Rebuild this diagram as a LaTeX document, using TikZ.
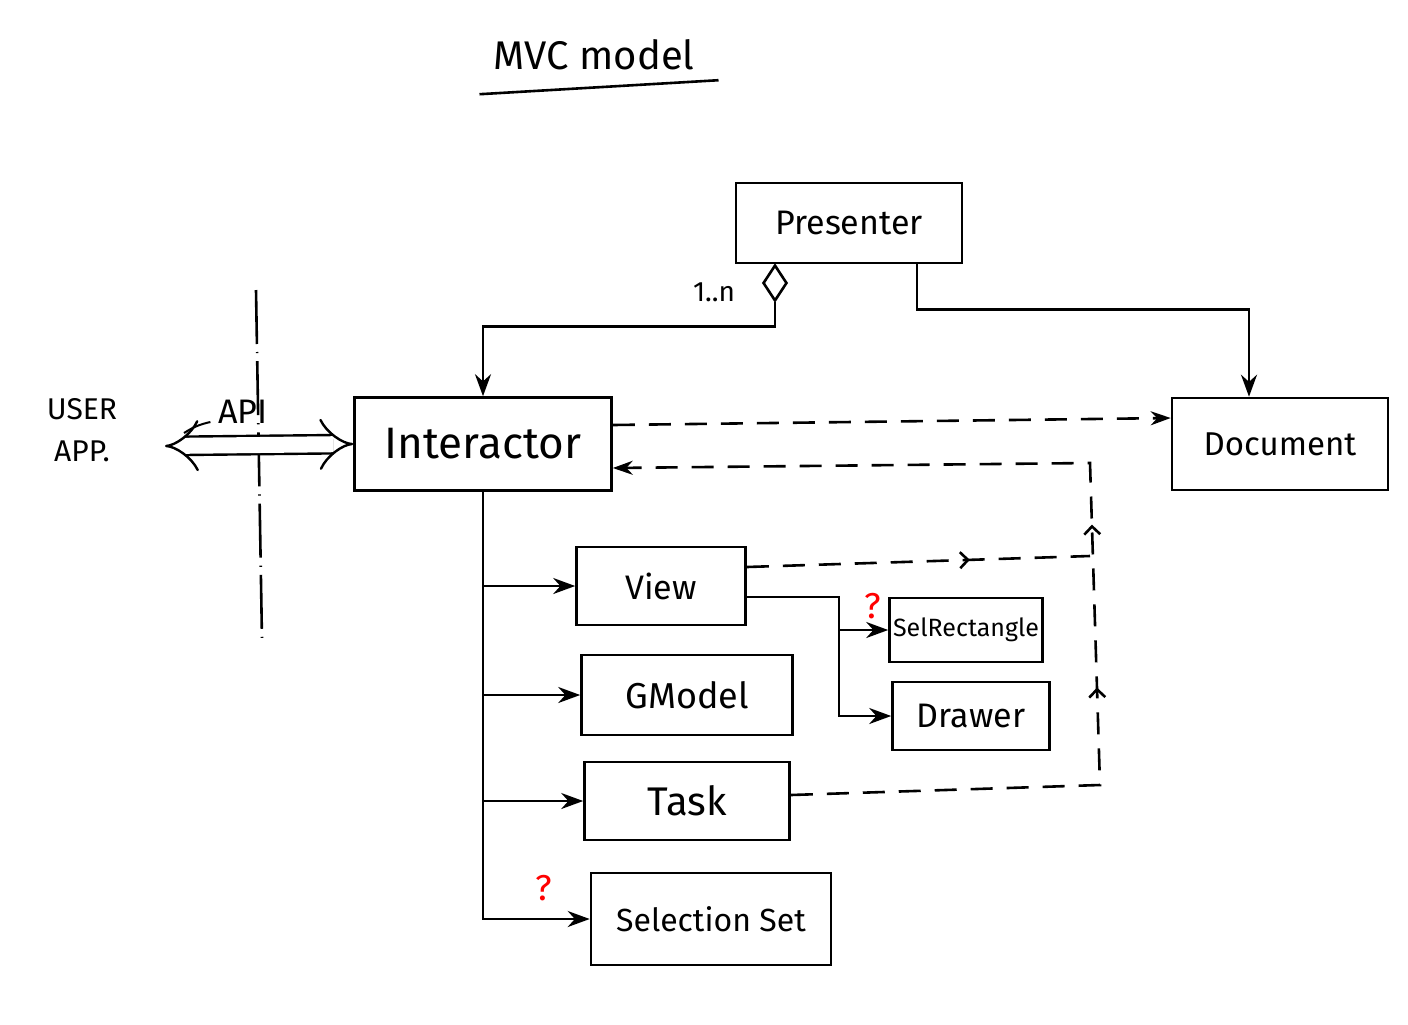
\documentclass[tikz,border=0pt]{standalone}
\usepackage{fontspec}
\setmainfont{Fira Sans}
\usetikzlibrary{arrows.meta,shapes.geometric,decorations.markings}

\begin{document}
\begin{tikzpicture}[x=0.5pt,y=-0.5pt,line width=1.3pt,%
  font=\fontsize{17}{20}\selectfont,%
  classbox/.style={draw,rectangle,inner sep=0pt},%
  conn/.style={-{Stealth[length=11pt,width=8pt]}},%
  dashconn/.style={dash pattern=on 11pt off 7pt,%
  -{Stealth[length=10pt,width=7pt]}},%
  hint/.style={text=red,font=\fontsize{18}{20}\selectfont},%
  flowbarb/.tip={Straight Barb[length=4pt,width=8pt]}]

  \useasboundingbox (0,0) rectangle (1408,1024);

  % title
  \node[font=\fontsize{20}{22}\selectfont] (title) at (594,55) {MVC model};
  \draw ([xshift=-3pt,yshift=-8pt]title.south west)
    -- ([xshift=8pt,yshift=-1pt]title.south east);

  % classes
  \node[classbox,minimum width=113pt,minimum height=40pt] (presenter)
    at (849,223) {Presenter};
  \node[classbox,minimum width=128.5pt,minimum height=46.5pt,%
    font=\fontsize{22}{24}\selectfont] (interactor) at (483,444) {Interactor};
  \node[classbox,minimum width=108pt,minimum height=46pt,%
    font=\fontsize{16.5}{20}\selectfont] (document) at (1280,444) {Document};
  \node[classbox,minimum width=84.5pt,minimum height=39pt] (view)
    at (661,586) {View};
  \node[classbox,minimum width=105.5pt,minimum height=40pt,%
    font=\fontsize{18}{20}\selectfont] (gmodel) at (687,695) {GModel};
  \node[classbox,minimum width=102.5pt,minimum height=39pt,%
    font=\fontsize{20}{22}\selectfont] (task) at (687,801) {Task};
  \node[classbox,minimum width=120pt,minimum height=46pt,%
    font=\fontsize{16}{20}\selectfont] (selset) at (711,919) {Selection Set};
  \node[classbox,minimum width=76.5pt,minimum height=32pt,%
    font=\fontsize{12.5}{14}\selectfont] (selrect) at (966,630) {SelRectangle};
  \node[classbox,minimum width=78.5pt,minimum height=34pt] (drawer)
    at (971,716) {Drawer};

  % user side
  \node[align=center,font=\fontsize{15}{21}\selectfont] (userapp)
    at (82,430) {USER\\APP.};
  \node (api) at (243,412) {API};
  \coordinate (append) at (165,446);
  \coordinate (apitip) at (184,433);
  \coordinate (septop) at (256,290);
  \coordinate (sepbot) at (262,640);
  \draw[dash pattern=on 27pt off 4pt on 0.6pt off 4pt] (septop) -- (sepbot);
  \draw[double,double distance=8pt,line width=1.2pt,%
    {Implies[length=9pt]}-{Implies[length=9pt]}]
    (append) -- (interactor.west);
  \draw[line width=1pt] ([yshift=-5pt]api.west) to[bend right=10] (apitip);

  % aggregation
  \node[draw,diamond,inner sep=0pt,minimum width=12pt,minimum height=18pt]
    (agg) at (775,283) {};
  \node[font=\fontsize{14}{16}\selectfont] (mult) at (714,292) {1..n};
  \draw[conn] (agg.south) -- ++(0,24) -| (interactor.north);
  \draw[conn] ([xshift=34pt]presenter.south) -- ++(0,45)
    -| ([xshift=-15.5pt]document.north);

  % interactor parts
  \draw[conn] (interactor.south) |- (view.west);
  \draw[conn] (interactor.south) |- (gmodel.west);
  \draw[conn] (interactor.south) |- (task.west);
  \draw[conn] (interactor.south) |- (selset.west);
  \node[hint] (q1) at (544,888) {?};

  \draw[conn] ([yshift=-5.5pt]view.east) -- ++(46pt,0) coordinate (vjoin)
    |- (drawer.west);
  \draw[conn] (vjoin |- selrect.west) -- (selrect.west);
  \node[hint] (q2) at (873,606) {?};

  % notifications
  \coordinate (tasknear) at (1100,785);
  \coordinate (notetop) at (1090,463);
  \coordinate (viewjoin) at (1090,556);
  \draw[dashconn] ([yshift=9.5pt]interactor.east) -- ([yshift=13pt]document.west);
  \draw[dashconn,decoration={markings,%
    mark=at position 0.367 with {\arrow{flowbarb}},%
    mark=at position 0.514 with {\arrow{flowbarb}}},postaction={decorate}]
    ([yshift=3pt]task.east) -- (tasknear) -- (notetop)
    -- ([yshift=-12pt]interactor.east);
  \draw[dash pattern=on 11pt off 7pt,decoration={markings,%
    mark=at position 0.65 with {\arrow{flowbarb}}},postaction={decorate}]
    ([yshift=9.5pt]view.east) -- (viewjoin);
\end{tikzpicture}
\end{document}
